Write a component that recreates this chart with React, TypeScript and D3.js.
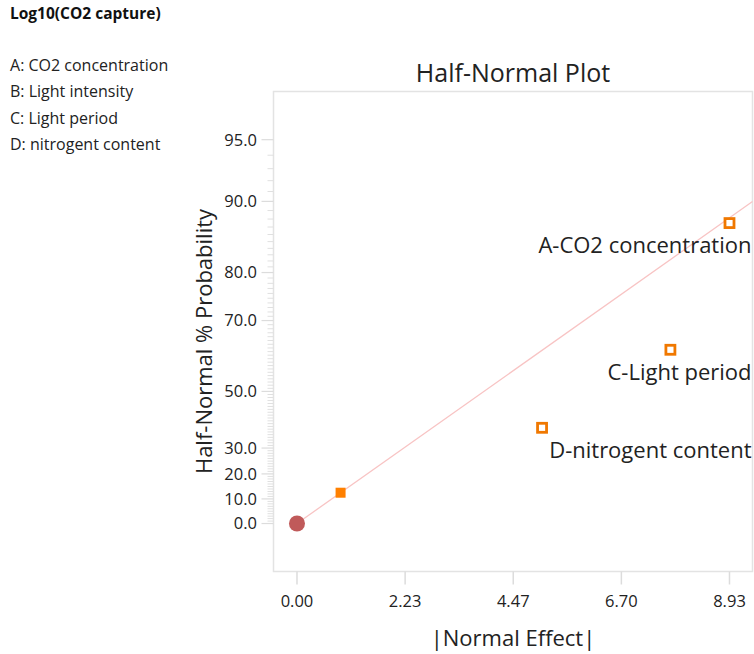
import React from "react";
import * as d3 from "d3";

// response + factors
const responseName = "Log10(CO2 capture)";
const factorCodes = ["A", "B", "C", "D"];
const factorNames = ["CO2 concentration", "Light intensity", "Light period", "nitrogent content"];
// |effect| for each factor
const effects = [8.93, 0.9, 7.71, 5.06];
// which effects are picked as significant (open squares)
const selected = [true, false, true, true];

const xTicks = [0, 2.2325, 4.465, 6.6975, 8.93];
const xTickLabels = ["0.00", "2.23", "4.47", "6.70", "8.93"];
const yMajor = [0, 10, 20, 30, 50, 70, 80, 90, 95];
const yMinor = d3.range(1, 95).filter((v) => !yMajor.includes(v));

// inverse normal cdf (Acklam)
function probit(p: number) {
  const a = [-39.69683028665376, 220.9460984245205, -275.9285104469687, 138.357751867269, -30.66479806614716, 2.506628277459239];
  const b = [-54.47609879822406, 161.5858368580409, -155.6989798598866, 66.80131188771972, -13.28068155288572];
  const c = [-0.007784894002430293, -0.3223964580411365, -2.400758277161838, -2.549732539343734, 4.374664141464968, 2.938163982698783];
  const d = [0.007784695709041462, 0.3224671290700398, 2.445134137142996, 3.754408661907416];
  const pl = 0.02425;
  if (p < pl) {
    const q = Math.sqrt(-2 * Math.log(p));
    return (((((c[0] * q + c[1]) * q + c[2]) * q + c[3]) * q + c[4]) * q + c[5]) / ((((d[0] * q + d[1]) * q + d[2]) * q + d[3]) * q + 1);
  }
  if (p > 1 - pl) {
    const q = Math.sqrt(-2 * Math.log(1 - p));
    return -(((((c[0] * q + c[1]) * q + c[2]) * q + c[3]) * q + c[4]) * q + c[5]) / ((((d[0] * q + d[1]) * q + d[2]) * q + d[3]) * q + 1);
  }
  const q = p - 0.5;
  const r = q * q;
  return ((((((a[0] * r + a[1]) * r + a[2]) * r + a[3]) * r + a[4]) * r + a[5]) * q) / (((((b[0] * r + b[1]) * r + b[2]) * r + b[3]) * r + b[4]) * r + 1);
}
// half-normal quantile of a percent
const hn = (pct: number) => probit(0.5 + pct / 200);

const font = "'Open Sans', 'Noto Sans', sans-serif";

export default function App() {
  const W = 754, H = 654;
  const left = 273.5, right = 752.5, top = 91.5, bottom = 571.5;

  const x = d3.scaleLinear().domain([-0.485, 9.405]).range([left, right]);
  const y = d3.scaleLinear().domain([-0.245, 2.206]).range([bottom, top]);

  // half-normal plotting positions from the ranks
  const n = effects.length;
  const order = d3.range(n).sort((i, j) => effects[i] - effects[j]);
  const pts = order.map((i, r) => ({
    i,
    eff: effects[i],
    z: hn((100 * (r + 0.5)) / n),
    sel: selected[i],
    label: factorCodes[i] + "-" + factorNames[i],
  }));

  // reference line through the origin and the smallest effect
  const k = pts[0].z / pts[0].eff;
  const lineGen = d3.line<number>().x((e) => x(e)).y((e) => y(e * k));
  const lineD = lineGen([0, x.invert(right)]);

  return (
    <svg width={W} height={H} style={{ position: "absolute", left: 0, top: 0, fontFamily: font }}>
      <rect width={W} height={H} fill="#fff" />
      <text x={10} y={19} fontSize={15.5} fontWeight="bold" fill="#111">{responseName}</text>
      {factorCodes.map((c, i) => (
        <text key={c} x={10} y={71 + i * 26.4} fontSize={16} fill="#222">
          {c}: {factorNames[i]}
        </text>
      ))}

      <text x={(left + right) / 2} y={82} fontSize={25} textAnchor="middle" fill="#222">Half-Normal Plot</text>

      {/* frame */}
      <rect x={left} y={top} width={right - left} height={bottom - top} fill="none" stroke="#e3e3e3" strokeWidth={1.5} />

      {/* y ticks */}
      {yMinor.map((v) => (
        <line key={"m" + v} x1={left - 6} x2={left} y1={y(hn(v))} y2={y(hn(v))} stroke="#e0e0e0" strokeWidth={1} />
      ))}
      {yMajor.map((v) => (
        <g key={"M" + v}>
          <line x1={left - 12} x2={left} y1={y(hn(v))} y2={y(hn(v))} stroke="#dcdcdc" strokeWidth={1.2} />
          <text x={257} y={y(hn(v))} dy="0.36em" fontSize={16.5} textAnchor="end" fill="#222">{v.toFixed(1)}</text>
        </g>
      ))}

      {/* x ticks */}
      {xTicks.map((t, i) => (
        <g key={t}>
          <line x1={x(t)} x2={x(t)} y1={bottom} y2={bottom + 13} stroke="#dcdcdc" strokeWidth={1.5} />
          <text x={x(t)} y={607} fontSize={16.5} textAnchor="middle" fill="#222">{xTickLabels[i]}</text>
        </g>
      ))}

      <text x={(left + right) / 2} y={646} fontSize={22} textAnchor="middle" fill="#222">|Normal Effect|</text>
      <text transform={`translate(212,${(top + bottom) / 2 + 10}) rotate(-90)`} fontSize={22} textAnchor="middle" fill="#222">
        Half-Normal % Probability
      </text>

      <path d={lineD || ""} fill="none" stroke="#f8c4c4" strokeWidth={1.3} />

      <circle cx={x(0)} cy={y(0)} r={8} fill="#c05a5a" />

      {pts.map((p) =>
        p.sel ? (
          <g key={p.i}>
            <rect x={x(p.eff) - 4.5} y={y(p.z) - 4.5} width={9} height={9} fill="#fff" stroke="#f07800" strokeWidth={2.8} />
            <text x={right - 1} y={y(p.z) + 30} fontSize={22} textAnchor="end" fill="#222">{p.label}</text>
          </g>
        ) : (
          <rect key={p.i} x={x(p.eff) - 5} y={y(p.z) - 5} width={10} height={10} fill="#ff8000" />
        )
      )}
    </svg>
  );
}
